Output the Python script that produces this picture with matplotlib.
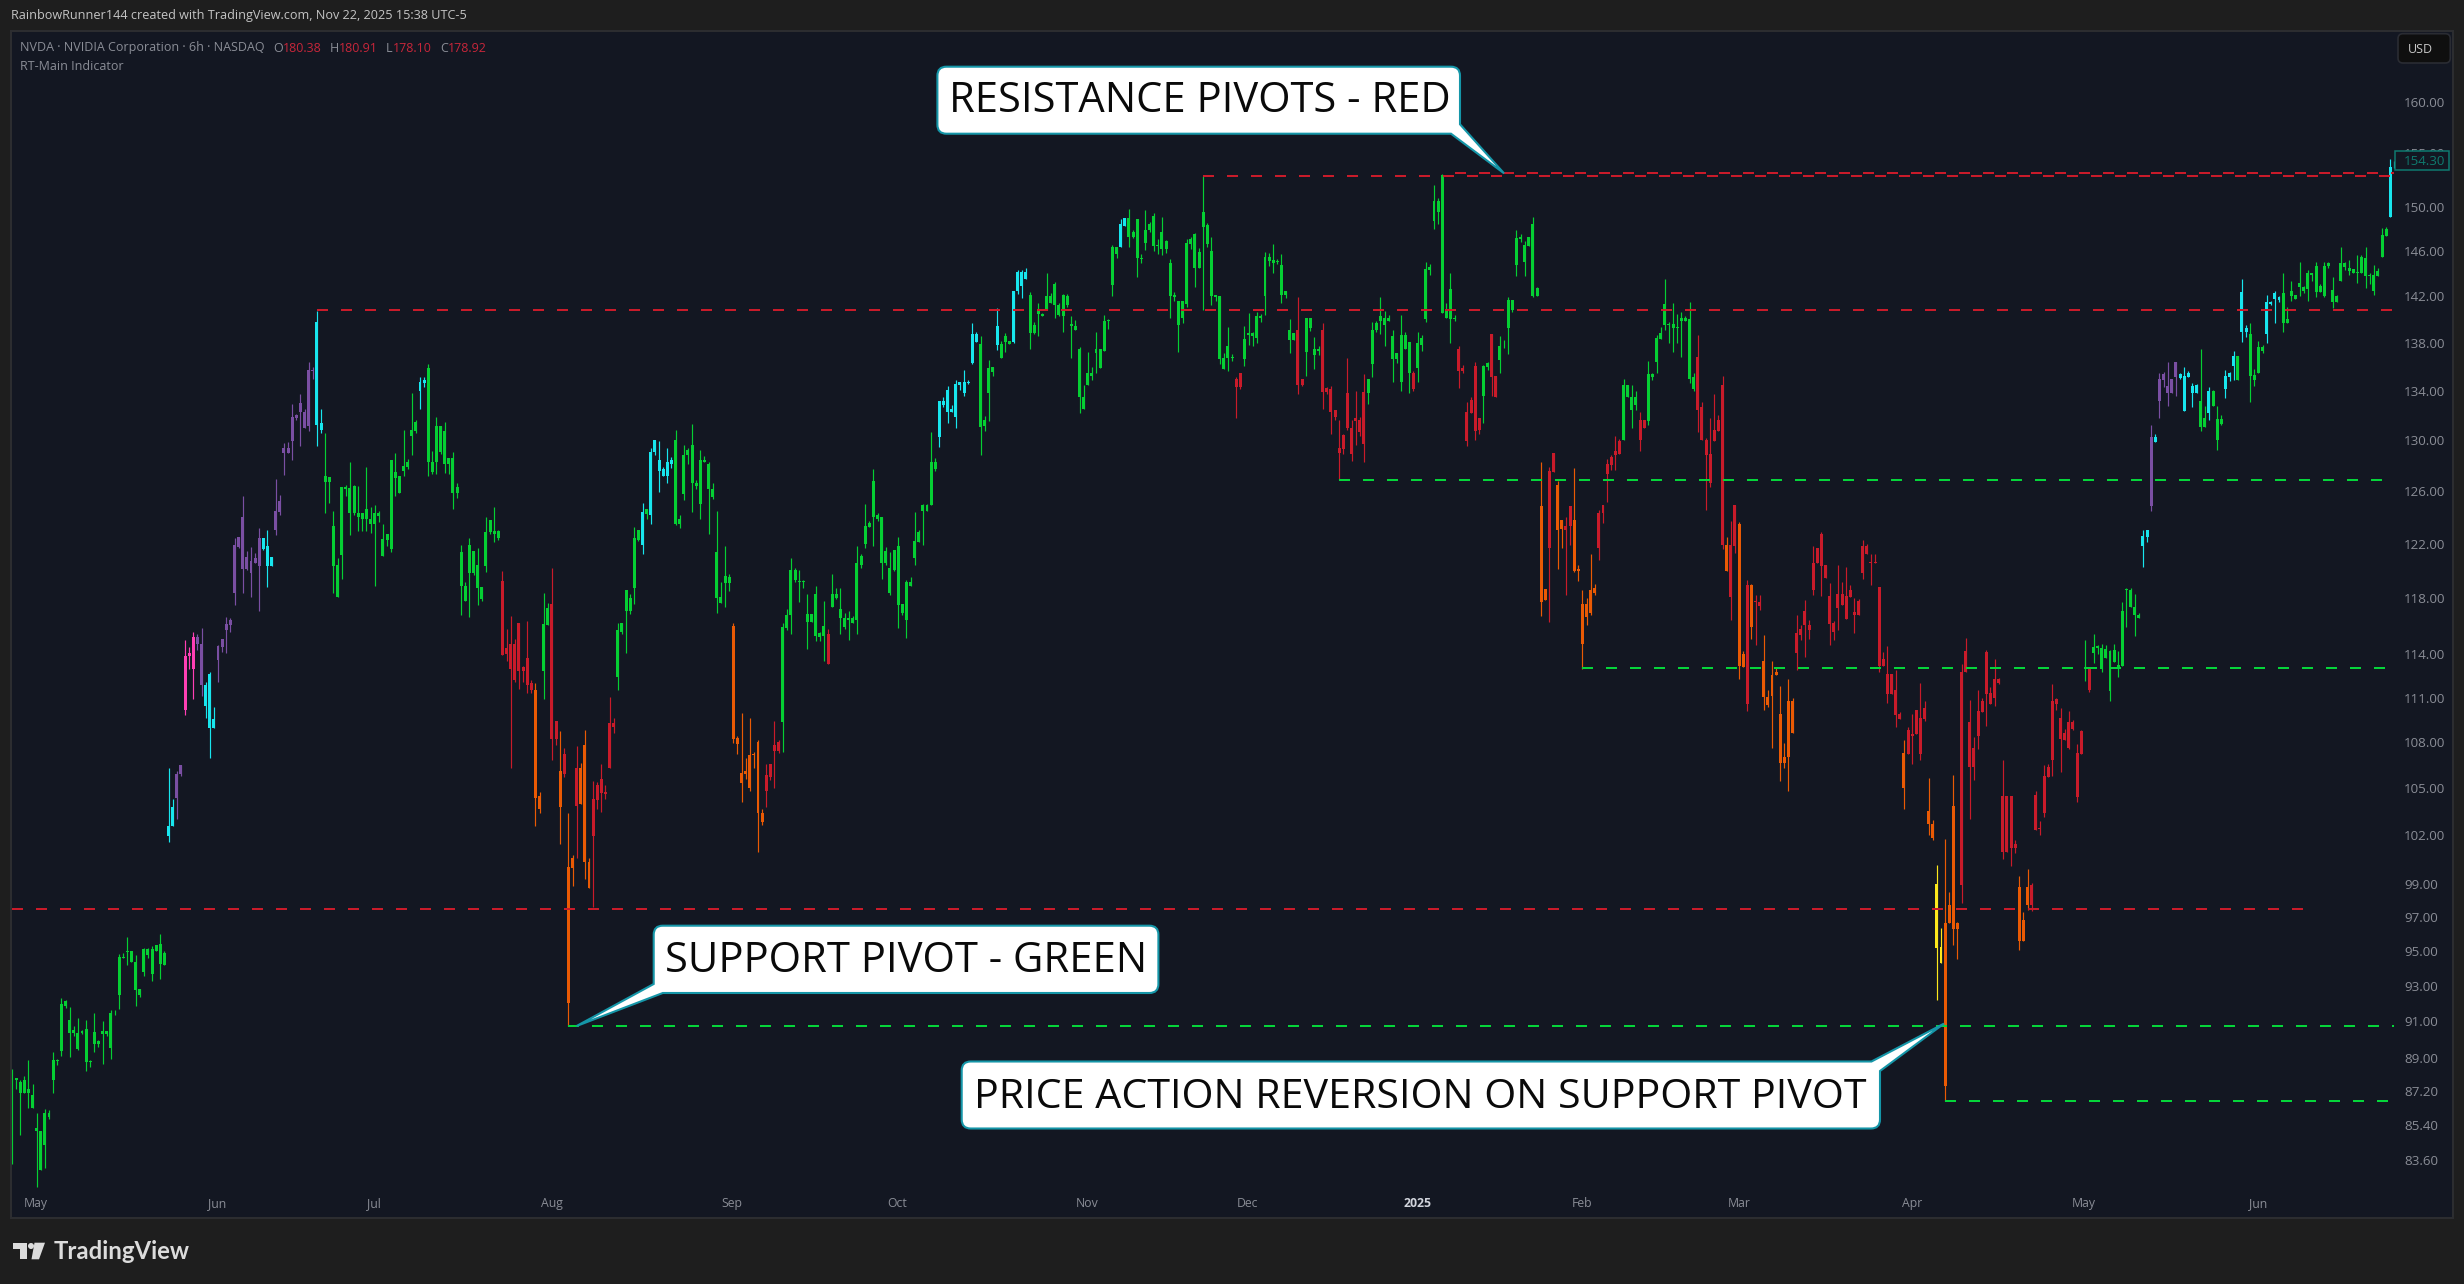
import matplotlib
matplotlib.use('Agg')
import matplotlib.pyplot as plt
from matplotlib.patches import Rectangle, FancyBboxPatch, PathPatch, Polygon, Circle
from matplotlib.path import Path
from matplotlib.transforms import ScaledTranslation

# Candle values, one row per 10 bars
highs = [
    88.4,87.9,87.8,88.0,88.9,87.6,86.05,85.1,86.25,86.2,
    89.3,88.95,92.3,92.2,91.8,90.75,91.2,90.55,91.1,88.9,
    91.5,90.0,91.05,90.5,91.65,91.65,94.85,94.9,95.85,95.05,
    94.8,92.85,95.2,95.2,95.3,95.4,96.05,95.0,106.3,104.3,
    106.15,106.5,115.0,114.5,115.55,115.4,115.85,112.1,112.8,110.4,
    114.65,115.05,116.65,116.55,122.45,122.5,125.6,121.45,121.75,121.3,
    123.2,122.45,123.0,121.0,126.95,125.7,129.75,129.85,132.95,132.1,
    133.75,132.5,136.35,136.0,140.7,132.5,130.6,127.1,124.5,120.9,
    126.3,126.5,128.25,126.5,126.4,124.35,127.85,124.8,124.9,124.5,
    123.45,122.7,128.4,128.95,127.15,130.8,128.5,133.85,131.6,135.1,
    135.1,136.2,129.15,131.9,131.1,131.45,128.6,129.05,126.65,121.9,
    119.15,122.45,121.45,121.7,118.8,124.05,123.75,124.8,123.0,119.95,
    115.75,116.7,115.05,116.2,113.2,116.35,112.2,112.0,104.75,118.35,
    117.65,120.2,109.45,108.75,107.6,103.4,100.8,107.75,106.65,108.8,
    100.6,105.5,105.4,106.6,105.2,111.05,109.6,116.2,116.2,118.6,
    118.3,123.25,123.0,125.05,124.6,129.35,130.0,129.9,127.85,129.35,
    128.65,130.8,124.2,129.6,129.4,131.3,126.9,129.2,128.75,128.3,
    126.65,124.45,119.15,121.85,119.75,116.2,108.45,109.95,106.95,109.65,
    107.35,108.15,103.7,106.55,106.55,109.4,108.15,116.2,117.2,120.9,
    120.2,120.05,119.3,118.3,116.85,118.9,115.6,117.8,115.75,119.75,
    118.75,118.7,116.95,117.05,116.7,121.85,121.25,125.0,123.7,127.7,
    124.3,124.0,121.75,121.35,121.5,122.5,117.55,119.35,119.5,124.4,
    123.0,125.0,125.0,130.65,128.6,133.2,133.45,134.4,132.85,134.9,
    134.7,135.75,134.85,139.65,138.95,138.55,131.95,136.55,136.0,141.0,
    138.15,138.8,138.15,142.5,144.3,144.3,144.5,142.4,139.8,141.4,
    140.55,144.0,142.25,143.25,141.4,142.2,142.2,140.3,139.95,137.65,
    134.5,137.25,136.0,138.95,137.45,140.4,140.05,146.55,146.4,148.85,
    149.0,149.85,147.9,148.85,145.7,149.75,148.65,149.45,147.1,149.1,
    147.0,145.25,142.35,141.6,141.6,147.1,147.25,147.6,146.25,152.85,
    148.55,147.3,142.15,142.0,137.15,139.35,137.05,135.15,135.45,139.4,
    140.55,138.9,140.6,140.45,145.9,145.8,146.65,145.3,145.75,142.5,
    140.0,138.8,141.9,135.0,140.15,140.15,138.5,137.75,139.65,134.3,
    134.4,132.45,131.6,130.5,136.75,131.6,134.0,131.9,135.35,135.0,
    139.75,139.85,141.9,140.7,140.35,139.1,137.15,140.35,138.9,138.1,
    135.6,138.9,138.65,145.0,144.85,152.05,150.8,153.05,141.4,144.0,
    140.35,137.7,136.1,133.1,133.5,136.4,131.8,136.1,136.4,138.75,
    135.25,138.55,138.2,141.9,141.65,147.9,147.55,146.9,147.3,149.05,
    142.85,128.3,118.65,127.9,129.0,126.8,123.75,124.0,124.85,127.8,
    120.4,118.6,118.0,121.2,119.0,124.55,124.95,128.5,128.85,130.35,
    130.1,135.0,134.5,134.5,134.0,132.25,131.6,136.45,135.45,138.65,
    139.35,143.5,139.75,141.4,140.45,140.6,140.25,141.5,135.5,138.65,
    133.1,130.2,131.8,133.75,132.05,
    135.2,122.5,123.7,124.95,123.65,
    114.25,119.35,119.0,118.25,118.25,115.35,111.5,113.5,113.1,111.8,
    107.95,112.25,111.0,116.8,116.05,117.85,116.4,121.85,121.7,122.85,
    120.4,119.1,116.35,120.45,119.15,120.25,118.95,118.0,117.95,122.25,
    121.95,121.25,121.25,118.8,114.15,114.55,112.65,112.9,110.05,108.15,
    109.0,109.9,110.2,112.0,110.75,105.65,103.0,100.2,96.4,101.8,
    98.5,105.85,96.75,113.3,115.15,110.85,108.35,111.55,111.0,114.3,
    111.75,113.65,112.35,106.85,104.5,104.5,101.75,99.5,97.3,99.9,
    99.05,104.8,102.9,106.5,106.6,111.95,111.0,110.3,108.9,110.1,
    109.5,107.9,108.85,115.0,113.05,115.4,114.65,114.7,114.65,114.3,
    114.75,114.2,117.7,118.75,118.7,118.3,116.95,123.0,123.0,131.25,
    130.5,135.5,135.55,136.4,135.0,136.4,135.5,136.0,135.6,134.65,
    134.55,137.5,132.75,134.3,134.05,132.75,132.05,135.75,135.55,137.3,
    136.9,143.55,139.5,139.65,135.8,138.15,137.8,142.1,141.6,142.45,
    142.0,144.0,141.1,143.3,142.15,145.0,142.9,144.3,144.0,145.0,
    143.05,145.0,145.0,143.65,142.1,146.35,145.0,145.2,144.35,145.6,
    145.65,146.35,144.0,144.75,144.5,148.05,148.15,154.45,154.3,
]
body_tops = [
    87.9,87.9,87.7,87.8,87.3,87.0,85.25,85.1,86.05,86.05,
    88.9,88.9,92.0,92.15,91.1,90.55,90.35,90.45,90.6,88.85,
    90.4,89.9,90.5,90.45,91.5,91.45,94.65,94.7,95.05,95.05,
    94.4,92.85,95.15,95.15,95.15,95.35,95.45,94.9,102.6,103.8,
    105.9,106.5,113.9,114.1,115.2,115.2,114.7,111.9,112.6,109.55,
    114.6,115.05,116.15,116.4,121.9,122.5,124.05,121.0,120.7,120.9,
    122.45,122.45,121.8,121.0,124.5,125.25,129.4,129.35,131.85,132.0,
    133.0,132.25,135.75,135.75,139.8,131.35,127.2,127.1,123.3,120.4,
    126.3,126.3,126.25,126.4,124.35,124.3,124.6,123.9,124.3,124.3,
    122.35,122.7,128.4,127.45,127.15,127.95,128.3,130.8,131.45,134.7,
    134.85,135.85,128.25,131.1,131.1,130.7,128.55,128.55,126.3,121.35,
    118.9,121.9,121.45,120.45,118.8,122.85,123.75,122.95,122.95,119.25,
    114.45,114.75,114.75,116.2,113.1,113.75,112.0,111.5,104.5,116.15,
    117.25,117.6,109.4,106.1,107.25,100.05,100.6,106.3,106.3,107.85,
    100.35,104.3,105.2,105.6,104.75,109.3,109.3,115.7,116.2,118.6,
    118.0,122.45,123.0,124.4,124.6,129.1,130.0,128.4,127.7,128.25,
    128.45,130.05,123.9,128.85,129.25,129.6,126.65,128.45,128.45,128.1,
    126.2,121.4,118.1,119.6,119.5,116.0,108.3,106.0,106.15,107.15,
    107.25,108.05,103.45,105.85,106.55,107.8,108.05,115.95,116.75,120.05,
    120.05,119.25,119.25,116.85,116.85,118.3,115.5,116.0,115.4,118.3,
    118.3,117.2,116.6,116.55,116.6,120.55,121.05,123.3,123.55,126.8,
    124.2,124.0,121.45,120.2,121.5,121.85,117.55,119.15,119.15,122.2,
    122.85,124.9,124.9,128.25,128.25,133.2,133.2,134.1,132.55,134.55,
    134.7,134.7,134.75,138.75,138.75,137.9,131.6,135.9,136.0,139.4,
    137.9,138.6,138.15,142.5,144.1,144.1,144.1,142.15,139.55,140.7,
    140.5,142.0,142.0,143.05,141.25,142.15,142.05,139.6,139.45,137.5,
    133.5,135.5,135.5,137.45,137.45,139.9,139.95,146.4,146.35,148.4,
    149.0,148.95,147.75,148.85,145.4,147.9,148.45,149.2,146.55,147.75,
    146.9,144.9,142.15,141.6,141.6,146.75,147.1,147.5,145.9,149.5,
    148.3,146.0,142.1,142.0,136.75,137.7,136.8,135.0,135.45,138.3,
    138.8,138.8,140.25,140.25,145.45,145.45,145.2,145.1,144.75,142.45,
    139.1,138.8,139.1,135.0,140.15,140.15,137.45,137.45,139.1,134.25,
    134.15,132.4,129.35,130.4,133.85,131.0,131.75,131.65,133.9,135.0,
    139.1,139.65,140.25,140.15,140.15,138.55,137.15,138.65,138.65,138.05,
    135.5,137.95,138.4,144.35,144.55,150.55,150.55,152.95,140.7,142.6,
    140.1,137.45,135.9,132.25,133.25,136.05,131.8,136.05,136.3,138.75,
    135.25,137.7,137.75,141.65,141.65,147.2,147.25,146.55,147.3,148.45,
    142.7,124.85,118.65,127.55,129.0,126.45,123.75,123.35,124.85,123.75,
    120.15,117.55,117.55,118.55,118.75,124.35,124.9,128.15,128.65,129.15,
    129.9,134.5,134.5,133.5,133.45,131.6,131.6,135.35,135.35,138.4,
    138.8,141.35,139.6,139.6,139.35,140.1,140.15,140.0,135.1,136.8,
    132.65,130.0,128.9,130.8,131.6,
    134.5,121.9,121.9,124.95,123.5,
    114.0,118.95,118.95,117.8,117.7,113.5,111.05,112.55,112.75,109.9,
    107.05,110.75,110.8,115.5,115.75,117.1,116.05,120.6,121.65,122.7,
    120.4,118.15,116.2,118.3,118.3,118.15,118.6,117.0,117.8,121.8,
    121.8,120.65,120.65,118.8,113.7,112.65,112.65,111.5,109.9,107.3,
    108.8,108.55,110.2,109.65,110.3,103.55,102.7,99.0,95.25,96.7,
    97.75,103.85,96.7,112.8,114.25,109.35,107.6,110.1,110.75,114.15,
    111.35,112.25,112.25,104.5,104.5,104.5,101.45,98.85,96.85,98.85,
    98.95,104.55,102.5,105.8,106.4,110.75,110.9,109.6,108.65,109.35,
    109.35,107.3,108.75,113.1,113.0,114.5,114.55,114.45,114.4,114.25,
    114.3,113.25,117.05,118.65,118.6,117.35,116.8,122.6,123.0,130.25,
    130.25,135.0,135.4,134.4,135.0,136.4,135.35,135.2,135.5,134.4,
    134.45,133.15,131.8,133.95,133.95,131.7,131.7,135.2,135.5,136.9,
    136.9,142.35,139.25,138.75,135.3,137.65,137.65,141.5,141.5,142.3,
    141.95,142.3,140.05,142.5,142.1,143.2,142.8,144.0,144.0,144.65,
    142.9,144.7,144.95,142.55,142.0,144.9,144.9,144.5,144.35,144.15,
    145.45,145.35,143.85,143.9,144.2,147.4,147.95,153.75,153.95,
]
body_bottoms = [
    83.8,87.8,87.1,87.1,87.1,86.3,85.1,83.1,84.35,85.85,
    87.8,88.8,89.4,91.9,90.35,90.35,89.5,90.35,88.75,88.75,
    89.75,89.75,90.3,90.3,89.55,91.4,92.5,94.6,94.95,94.4,
    92.8,92.5,93.8,94.8,93.7,95.05,94.25,94.2,102.0,102.6,
    104.4,105.9,110.15,113.85,113.0,114.7,111.85,110.45,108.95,108.95,
    113.6,114.5,115.7,116.05,118.35,121.75,120.1,120.1,119.85,120.6,
    120.35,121.6,120.35,120.35,123.0,124.4,129.0,129.0,129.95,131.75,
    132.25,131.0,131.1,135.65,131.25,130.8,126.7,126.7,120.35,118.05,
    121.15,126.15,124.35,124.35,124.0,123.85,123.85,123.45,123.45,124.1,
    121.05,122.3,121.6,127.05,125.85,127.55,127.85,130.3,130.7,133.95,
    134.6,128.25,127.45,128.3,129.1,128.15,128.15,125.85,125.85,118.85,
    117.8,119.85,119.85,118.75,117.9,120.35,122.85,122.7,122.45,113.95,
    114.05,113.0,112.2,112.85,112.85,111.9,111.5,104.4,103.7,112.85,
    116.05,108.25,108.25,103.8,105.9,92.05,100.0,103.85,104.0,100.35,
    98.8,102.0,104.25,104.7,104.65,106.35,109.05,112.4,115.6,117.05,
    117.05,118.75,122.3,121.9,124.25,124.2,129.05,127.6,127.15,127.2,
    128.15,123.5,123.45,125.8,128.8,126.6,126.4,125.0,128.3,126.15,
    125.55,118.0,117.65,119.1,119.1,108.2,107.9,105.35,105.9,105.0,
    107.15,103.4,102.85,104.85,105.75,107.45,107.45,109.35,115.85,116.75,
    119.3,119.15,119.15,116.3,116.3,115.3,115.2,115.3,113.3,117.35,
    118.0,116.6,115.95,116.45,116.2,116.4,120.45,122.0,123.25,124.05,
    123.9,120.55,120.55,118.35,120.05,117.5,116.95,116.4,118.85,120.9,
    122.15,124.5,124.5,124.9,127.7,130.25,132.8,132.25,132.25,131.85,
    134.45,133.85,134.65,136.3,138.05,131.05,131.1,133.85,135.55,137.8,
    136.75,138.05,137.9,138.05,142.45,142.9,143.5,138.85,138.85,140.5,
    140.3,140.85,141.4,141.25,140.35,140.25,141.25,139.4,139.1,133.45,
    132.55,134.5,135.25,137.1,135.9,137.3,139.85,143.0,145.75,146.35,
    148.25,147.3,147.3,145.4,145.3,146.75,147.85,146.45,146.45,146.2,
    146.2,142.0,141.95,139.5,140.1,141.35,146.65,144.45,144.45,148.2,
    146.65,142.0,141.9,136.65,135.8,136.75,136.7,134.3,134.3,136.65,
    138.7,138.55,138.4,140.15,142.0,145.1,144.9,145.0,142.1,142.1,
    138.2,138.2,134.5,134.5,137.25,139.25,137.0,137.35,133.9,133.9,
    132.3,131.9,129.0,129.3,130.95,128.9,131.5,130.65,129.7,133.85,
    136.2,139.1,139.9,139.55,139.9,136.65,136.65,134.75,137.45,135.45,
    134.15,135.9,137.85,140.0,144.3,148.7,149.55,140.55,140.1,140.0,
    140.0,135.6,135.6,129.9,132.15,130.7,130.8,133.55,136.0,135.15,
    133.5,136.55,137.7,139.25,140.8,144.75,147.1,145.0,146.45,142.0,
    142.0,117.75,117.85,121.7,127.5,123.05,123.1,123.05,123.35,120.0,
    120.0,114.75,116.65,116.95,118.4,121.7,124.3,127.3,128.0,128.85,
    128.9,130.0,133.45,132.45,132.8,130.0,131.0,131.5,135.15,136.4,
    138.3,139.5,139.5,139.25,139.25,139.85,139.85,135.0,134.15,132.45,
    130.05,128.8,126.6,129.9,130.7,
    121.9,120.0,118.05,121.85,113.15,
    113.1,110.6,115.95,117.7,117.4,111.05,110.5,111.1,112.55,106.65,
    106.65,107.05,108.65,114.1,115.35,116.05,115.7,118.6,120.55,120.35,
    119.45,116.15,115.55,117.3,117.5,116.5,118.05,116.8,116.8,119.8,
    121.2,120.55,120.55,113.2,113.2,111.25,111.25,109.85,109.55,105.05,
    107.25,108.45,108.55,107.25,109.55,102.7,101.85,95.2,94.35,87.45,
    96.7,96.3,96.3,98.95,112.75,106.4,106.4,108.45,110.05,111.25,
    110.6,110.95,112.0,101.0,101.0,101.2,101.2,95.6,95.6,97.75,
    97.75,102.35,102.4,103.45,105.75,106.85,110.6,108.2,108.15,107.6,
    108.9,104.45,107.25,113.0,111.5,114.1,114.45,112.95,113.75,111.45,
    113.45,113.0,113.2,118.55,117.35,116.75,116.6,121.85,122.5,124.85,
    129.85,133.2,134.9,133.8,133.8,135.1,135.05,132.35,135.15,133.85,
    133.85,131.05,131.05,132.2,132.75,130.05,131.3,134.15,135.1,136.05,
    134.85,138.9,138.9,135.25,134.85,135.5,137.3,138.75,141.3,141.75,
    141.65,139.65,139.7,142.0,141.75,142.8,142.5,142.65,143.9,142.35,
    142.35,142.0,144.65,141.5,141.5,143.3,144.55,144.25,144.0,144.05,
    144.05,143.75,143.75,142.45,143.8,145.45,147.35,149.1,153.95,
]
lows = [
    83.4,87.3,84.9,87.1,86.3,86.3,82.2,83.1,83.2,85.7,
    87.1,88.6,89.1,91.75,89.05,90.2,89.45,90.3,88.3,88.5,
    89.3,89.6,88.65,90.2,88.95,91.35,91.7,94.6,94.2,94.4,
    91.85,92.4,93.6,94.6,93.3,95.05,93.4,94.2,101.6,102.6,
    103.05,105.8,109.85,113.0,110.9,114.3,111.15,109.65,106.95,108.95,
    112.05,114.15,114.1,115.55,117.5,121.7,118.35,120.05,118.05,120.55,
    117.1,121.5,118.8,120.35,122.65,124.2,127.25,129.0,128.4,131.6,
    129.55,131.0,130.7,135.0,129.55,130.6,124.3,125.1,118.35,118.05,
    119.4,125.6,122.65,124.2,122.95,122.95,122.95,122.8,118.85,123.6,
    121.05,121.8,121.35,125.65,125.85,127.15,127.75,128.8,130.6,132.5,
    134.3,127.15,127.3,127.3,128.9,127.4,127.3,124.6,125.5,116.8,
    117.8,116.65,119.7,117.5,117.8,119.9,122.7,122.15,122.3,113.95,
    113.55,106.3,112.1,111.6,112.1,111.3,111.35,102.6,103.45,110.9,
    116.05,106.85,107.8,101.45,105.7,90.75,98.9,100.6,104.0,99.3,
    98.8,97.6,103.65,103.5,104.3,106.3,108.6,111.55,115.4,114.1,
    116.85,117.55,122.2,121.25,123.9,123.45,128.8,125.9,127.15,126.65,
    127.8,123.4,123.15,125.3,128.15,124.4,126.15,123.9,128.25,122.75,
    125.4,116.95,117.65,117.35,118.5,107.95,107.25,104.15,105.6,104.8,
    106.35,101.0,102.65,103.8,105.55,105.0,107.3,107.35,115.7,115.4,
    119.15,117.7,118.75,114.35,116.3,114.9,114.95,113.5,113.3,117.35,
    117.9,115.4,115.75,115.0,116.2,115.4,120.2,121.7,123.25,121.85,
    123.7,119.4,120.45,118.2,119.95,115.85,116.75,115.15,118.85,120.45,
    122.15,121.9,124.5,124.9,127.55,129.45,132.7,131.4,132.25,131.0,
    134.1,133.6,134.55,136.25,138.05,128.8,130.7,131.55,135.25,137.4,
    136.75,137.2,137.9,137.95,142.2,141.85,143.5,137.45,138.75,138.55,
    140.25,140.85,141.4,140.1,140.3,138.95,141.05,136.75,139.05,132.15,
    132.5,134.5,134.9,135.5,135.9,137.3,139.15,142.05,145.4,146.35,
    148.25,146.35,147.15,143.7,144.95,146.1,147.75,146.0,145.7,145.65,
    145.8,140.1,141.6,137.2,139.7,141.1,146.2,142.8,144.45,140.8,
    146.4,141.2,141.6,136.2,135.8,135.65,136.45,131.8,134.15,136.05,
    137.85,137.75,137.95,139.75,140.35,144.65,144.0,144.8,141.4,141.85,
    137.15,138.2,133.75,134.4,135.25,139.0,135.8,137.0,132.55,133.75,
    130.5,131.6,126.95,128.9,130.8,128.35,129.6,130.3,128.3,132.95,
    135.15,138.9,138.75,137.75,139.85,134.75,136.3,134.0,137.45,133.85,
    134.0,134.7,137.35,139.75,143.85,147.95,148.4,140.55,140.1,137.95,
    139.85,134.25,135.45,129.5,132.15,130.05,130.5,131.35,135.75,133.55,
    133.5,135.5,137.55,137.05,140.6,143.75,146.85,143.75,146.45,141.9,
    142.0,116.7,117.85,116.3,127.5,120.1,121.65,118.2,121.9,119.9,
    119.25,113.0,116.05,116.8,118.2,120.75,123.55,125.15,127.65,127.65,
    128.9,130.0,133.45,131.0,132.4,129.15,131.0,131.2,134.85,135.5,
    138.3,139.1,137.95,137.25,138.0,136.8,139.85,134.6,134.0,130.65,
    130.05,124.55,126.3,129.9,130.7,
    121.6,120.0,116.45,121.3,112.3,
    113.1,110.1,115.05,114.65,117.15,110.2,110.4,107.65,112.55,105.45,
    106.3,104.85,108.65,112.9,115.0,113.8,115.1,118.25,120.55,118.15,
    119.45,114.65,115.0,115.7,117.5,116.5,118.05,115.5,116.8,119.4,
    121.2,118.95,120.55,112.8,113.2,110.65,111.25,109.05,109.55,103.7,
    107.25,106.55,108.55,106.85,109.45,102.05,101.75,92.2,94.35,86.65,
    96.7,95.4,94.55,97.85,112.75,103.05,105.55,107.55,110.05,109.1,
    110.6,110.45,111.95,100.55,101.0,100.1,100.9,95.1,95.6,97.45,
    97.4,102.35,102.05,103.2,105.75,105.8,110.15,106.05,108.15,107.55,
    108.8,104.15,107.25,112.15,111.4,113.4,114.0,112.75,113.75,110.8,
    113.45,112.4,113.2,115.9,117.35,115.25,116.55,120.3,122.1,124.45,
    129.85,131.8,134.3,132.75,133.8,133.55,135.0,132.35,135.1,132.65,
    133.85,130.7,131.05,131.65,132.75,129.25,131.25,133.4,134.8,134.9,
    134.85,138.05,138.5,133.05,134.4,135.5,137.1,138.0,141.25,139.65,
    141.5,138.9,139.7,141.6,141.75,142.0,142.3,141.6,143.3,141.95,
    142.35,141.95,144.5,140.95,141.5,143.3,144.3,143.85,144.0,143.2,
    144.05,142.7,143.1,142.15,143.75,145.45,147.35,149.1,153.6,
]

# Indicator colour of the bars as (colour key, number of bars)
color_runs = [
    ('g',38),('c',2),('p',2),('k',3),('p',2),('c',3),('p',11),('c',3),('p',10),('c',2),
    ('g',23),('c',2),('g',18),('r',8),('o',2),('g',2),('r',2),('o',1),('r',1),('o',2),
    ('r',1),('o',3),('r',6),('g',6),('c',1),('g',1),('c',6),('g',14),('o',8),('r',4),
    ('g',11),('r',1),('g',26),('c',10),('g',4),('c',1),('g',3),('c',4),('g',22),('c',2),
    ('g',26),('r',2),('g',13),('r',2),('g',4),('r',11),('g',11),('r',1),('g',10),('r',6),
    ('g',2),('r',2),('g',10),('o',2),('r',2),('o',2),('r',2),('o',6),('r',6),('g',4),
    ('r',2),('g',12),('r',7),('o',1),('r',2),('o',2),('r',1),('o',1),('r',2),('o',8),
    ('r',26),('o',1),('r',5),('o',2),('y',2),('o',4),('r',14),('o',3),('r',13),('g',1),
    ('r',1),('g',12),('c',2),('p',1),('c',1),('p',5),('c',5),('g',2),('c',1),('g',3),
    ('c',3),('g',1),('c',2),('g',4),('c',4),('g',26),('c',2),
]
palette = {'g': '#05cf33', 'c': '#18e6ee', 'p': '#7a4fa3', 'k': '#ff3fb4',
           'r': '#c91b2a', 'o': '#ea5a04', 'y': '#fde81c'}

# Pivot levels: price, first bar, last bar
red_pivots = [140.85, 152.85, 153.15, 97.5]
red_starts = [74, 289, 350, 0]
red_ends = [578, 578, 578, 556]
green_pivots = [126.9, 113.05, 90.75, 86.65]
green_starts = [322, 381, 135, 469]
green_ends = [578, 578, 578, 578]

price_ticks = [160, 155, 150, 146, 142, 138, 134, 130, 126, 122, 118, 114, 111, 108,
               105, 102, 99, 97, 95, 93, 91, 89, 87.2, 85.4, 83.6]
month_labels = ['May', 'Jun', 'Jul', 'Aug', 'Sep', 'Oct', 'Nov', 'Dec', '2025',
                'Feb', 'Mar', 'Apr', 'May', 'Jun']
month_bars = [5.8, 49.8, 87.8, 131, 174.7, 214.7, 260.8, 299.8, 340.9, 380.8, 419, 461, 502.7, 545]

W, H = 2464, 1284
PAGE = '#1e1e1e'
PANE = '#131722'
GREY = '#8a8d96'
FONT = 'Open Sans'


def callout(axis, box, corner, tail, text, text_x, baseline, size):
    # white bubble, the tail replaces one of the corners (0 tl, 1 tr, 2 br, 3 bl)
    x0, y0, x1, y1 = box
    r = 9
    corners = [(x0, y0), (x1, y0), (x1, y1), (x0, y1)]
    verts, codes = [], []
    for i, (cx, cy) in enumerate(corners):
        px, py = corners[i - 1]
        nx, ny = corners[(i + 1) % 4]
        sx = (px > cx) - (px < cx)
        sy = (py > cy) - (py < cy)
        ex = (nx > cx) - (nx < cx)
        ey = (ny > cy) - (ny < cy)
        if i == corner:
            pts = tail
            cd = [Path.LINETO] * 3
        else:
            pts = [(cx + sx * r, cy + sy * r), (cx, cy), (cx + ex * r, cy + ey * r)]
            cd = [Path.LINETO, Path.CURVE3, Path.CURVE3]
        verts += pts
        codes += cd
    codes[0] = Path.MOVETO
    verts.append(verts[0])
    codes.append(Path.CLOSEPOLY)
    axis.add_patch(PathPatch(Path(verts, codes), facecolor='white', edgecolor='#1596a8', lw=1.5, zorder=10))
    axis.text(text_x, baseline, text, color='#0a0a0a', fontsize=size, family=FONT, va='baseline', ha='left', zorder=11)


bars = list(range(len(highs)))
colors = []
for key, count in color_runs:
    colors += [palette[key]] * count

fig = plt.figure(figsize=(W / 100, H / 100), dpi=100, facecolor=PAGE)
fig.patches.append(Rectangle((10 / W, 1 - 1219 / H), 2444 / W, 1189 / H, transform=fig.transFigure,
                             facecolor='#2c2d30', edgecolor='none', zorder=-1))

ax = fig.add_axes([12 / W, 1 - 1217 / H, 2440 / W, 1185 / H], facecolor=PANE)
ax.set_yscale('log')
ax.set_xlim(0.02, 591.97)
ax.set_ylim(80.72, 166.99)
ax.set_xticks([])
ax.set_yticks([])
ax.minorticks_off()
for s in ax.spines.values():
    s.set_visible(False)

ax.vlines(bars, lows, highs, colors=colors, lw=0.85, zorder=2)
ax.bar(bars, [t - b for t, b in zip(body_tops, body_bottoms)], bottom=body_bottoms, width=0.72,
       color=colors, linewidth=0, antialiased=False, zorder=3)

for level, start, end in zip(red_pivots, red_starts, red_ends):
    ax.plot([start, end], [level, level], color='#c91b2a', lw=1.44, ls=(0, (5.5, 6.5)),
            dash_capstyle='butt', zorder=4)
for level, start, end in zip(green_pivots, green_starts, green_ends):
    ax.plot([start, end], [level, level], color='#05d53a', lw=1.44, ls=(0, (5.5, 6.5)),
            dash_capstyle='butt', zorder=4)

# axis labels sit a pixel or so lower than plain centring puts them
nudge = ScaledTranslation(0, -1.3 / 100, fig.dpi_scale_trans)
for p in price_ticks:
    ax.text(0.9803, p, f'{p:.2f}', transform=ax.get_yaxis_transform() + nudge, color=GREY, fontsize=9.6,
            family=FONT, va='center', ha='left', zorder=5)
for label, b in zip(month_labels, month_bars):
    bold = label == '2025'
    ax.text(b, 0.01207, label, transform=ax.get_xaxis_transform() + nudge, color='#d1d4dc' if bold else GREY,
            fontsize=8.8, family=FONT, fontweight='bold' if bold else 'normal', va='center', ha='center', zorder=5)

# everything that is not price data goes on a pixel overlay
ov = fig.add_axes([0, 0, 1, 1], facecolor='none')
ov.set_xlim(0, W)
ov.set_ylim(H, 0)
ov.axis('off')

ov.text(11, 16, 'RainbowRunner144 created with TradingView.com, Nov 22, 2025 15:38 UTC-5', color='#c4c4c4',
        fontsize=9.1, family=FONT, fontweight='medium', va='center', ha='left')
ov.text(20, 48, 'NVDA · NVIDIA Corporation · 6h · NASDAQ', color=GREY, fontsize=9.0, family=FONT, va='center', ha='left')
ov.text(20, 66.7, 'RT-Main Indicator', color=GREY, fontsize=9.0, family=FONT, va='center', ha='left')
for letter, lx, value, vx in [('O', 273, '180.38', 283), ('H', 330, '180.91', 339),
                              ('L', 386, '178.10', 393.3), ('C', 440, '178.92', 448.3)]:
    ov.text(lx, 48, letter, color=GREY, fontsize=9.0, family=FONT, va='center', ha='left')
    ov.text(vx, 48, value, color='#c7263a', fontsize=9.0, family=FONT, va='center', ha='left')

ov.add_patch(FancyBboxPatch((2398, 33.7), 52.3, 29.3, boxstyle='round,pad=0,rounding_size=5',
                            facecolor='#0f0f0f', edgecolor='#2a2c33', lw=1.2))
ov.text(2408, 49.5, 'USD', color='#c8c8c8', fontsize=9.0, family=FONT, va='center', ha='left')

ov.add_patch(Rectangle((2395.3, 151), 54, 18.7, facecolor=PANE, edgecolor='#0f7a70', lw=1.1, zorder=6))
ov.text(2404, 161.5, '154.30', color='#0f7a6e', fontsize=9.6, family=FONT, va='center', ha='left', zorder=7)

callout(ov, (937.4, 66.7, 1460, 133.7), 2, [(1460, 124.3), (1504, 173.3), (1451, 133.7)],
        'RESISTANCE PIVOTS - RED', 949, 112.3, 30)
callout(ov, (653.7, 925.7, 1158.4, 993), 3, [(662.8, 993), (576.6, 1026), (653.7, 984)],
        'SUPPORT PIVOT - GREEN', 665, 972.3, 30.1)
callout(ov, (961.7, 1061.5, 1880, 1128.5), 1, [(1871.5, 1061.5), (1944, 1023.6), (1880, 1071)],
        'PRICE ACTION REVERSION ON SUPPORT PIVOT', 974, 1107.5, 29.7)

# TradingView logo
logo = '#dcdcdc'
ov.add_patch(Polygon([(13.3, 1242.7), (26.7, 1242.7), (26.7, 1259.3), (20, 1259.3), (20, 1249), (13.3, 1249)],
                     facecolor=logo, edgecolor='none'))
ov.add_patch(Circle((31, 1246), 3, facecolor=logo, edgecolor='none'))
ov.add_patch(Polygon([(34.5, 1242.7), (45, 1242.7), (39, 1259.3), (31.5, 1259.3)], facecolor=logo, edgecolor='none'))
ov.text(54, 1251.5, 'TradingView', color=logo, fontsize=17.2, family='Lato', fontweight='bold', va='center', ha='left')

plt.savefig('out.png', dpi=100, facecolor=PAGE)
plt.close()
